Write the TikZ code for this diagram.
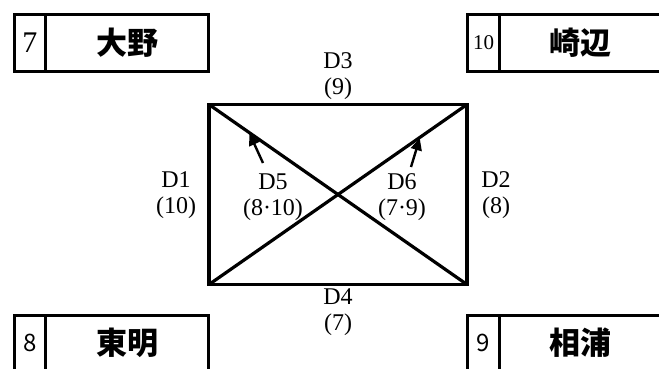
\documentclass[tikz,border=0pt]{standalone}
\usepackage{fontspec}
\setmainfont{Liberation Serif}
\newfontfamily\cjk{Noto Sans CJK JP}
\newfontfamily\numsans{Noto Sans CJK JP}
\usetikzlibrary{arrows.meta,calc}
\tikzset{
  cell/.style={draw, line width=3pt, inner sep=0pt, anchor=center},
  namefont/.style={font=\cjk\bfseries\fontsize{31}{34}\selectfont},
  lbl/.style={align=center, inner sep=0pt, font=\fontsize{24}{26}\selectfont},
  edge/.style={line width=3.2pt},
  pointer/.style={line width=2.4pt, -{Triangle[length=12pt,width=11pt]}, shorten >=1pt}
}
\begin{document}
\begin{tikzpicture}[x=1pt,y=-1pt]
\useasboundingbox (0,0) rectangle (659,368);
\clip (0,0) rectangle (659,368);
% station boxes
\node[cell, minimum width=31pt, minimum height=57.5pt, font=\fontsize{30}{30}\selectfont] (n7) at (30,43) {7};
\node[cell, namefont, minimum width=163pt, minimum height=57.5pt] (s7) at (127,43) {大野};
\node[cell, minimum width=32pt, minimum height=57.5pt, font=\fontsize{21}{22}\selectfont] (n10) at (483.5,43) {10};
\node[cell, namefont, minimum width=161.5pt, minimum height=57.5pt] (s10) at (580.25,43) {崎辺};
\node[cell, minimum width=31pt, minimum height=55pt, font=\numsans\fontsize{24}{26}\selectfont] (n8) at (30,342.5) {8};
\node[cell, namefont, minimum width=163pt, minimum height=55pt] (s8) at (127,342.5) {東明};
\node[cell, minimum width=32pt, minimum height=55pt, font=\numsans\fontsize{24}{26}\selectfont] (n9) at (483.5,342.5) {9};
\node[cell, namefont, minimum width=161.5pt, minimum height=55pt] (s9) at (580.25,342.5) {相浦};
% rectangle corners
\coordinate (A) at (209,104.5);
\coordinate (B) at (467,104.5);
\coordinate (C) at (467,284.5);
\coordinate (D) at (209,284.5);
\draw[edge] (A) -- (B) -- (C) -- (D) -- cycle;
\draw[edge] (A) -- (C);
\draw[edge] (D) -- (B);
% labels
\node[lbl] (d3) at (338,76) {D3\\(9)};
\node[lbl] (d1) at (176,195) {D1\\(10)};
\node[lbl] (d2) at (496,195) {D2\\(8)};
\node[lbl] (d4) at (338,312) {D4\\(7)};
\node[lbl] (d5) at (273,197) {D5\\(8·10)};
\node[lbl] (d6) at (402,197) {D6\\(7·9)};
% pointers
\coordinate (p5) at (263,163);
\coordinate (p6) at (411,167);
\draw[pointer] (p5) -- ($(A)!0.155!(C)$);
\draw[pointer] (p6) -- ($(D)!0.818!(B)$);
\end{tikzpicture}
\end{document}
